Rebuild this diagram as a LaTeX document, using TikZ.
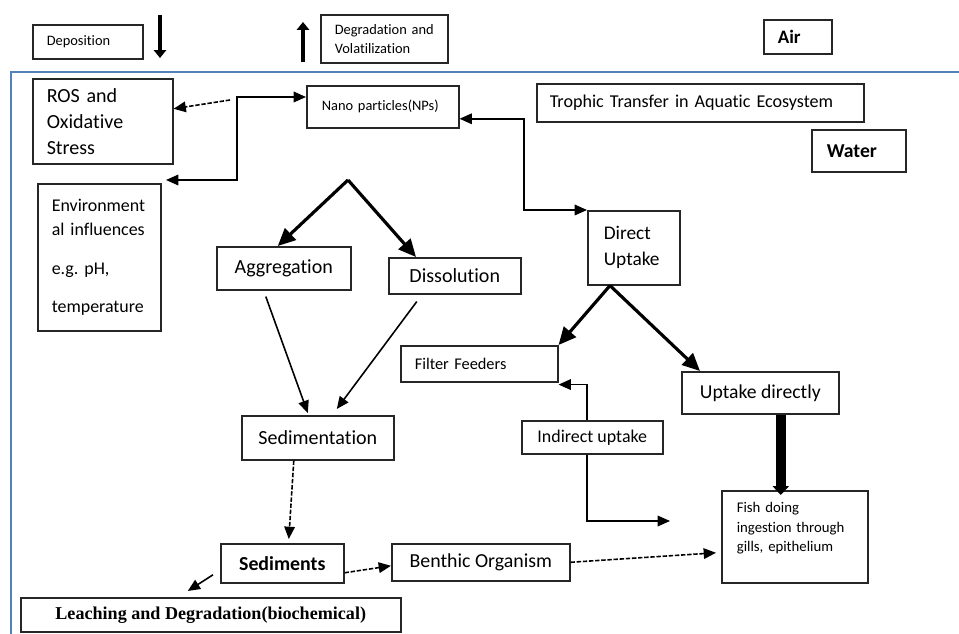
\documentclass[tikz,border=0pt]{standalone}
\usepackage{fontspec}
\setmainfont{Carlito}[Ligatures=NoCommon]
\newfontfamily\leachfont{Liberation Serif}
\usetikzlibrary{arrows.meta}
\definecolor{framblue}{RGB}{84,130,186}
\newcommand{\fsm}{\fontsize{8.2}{10.8}\selectfont}
\newcommand{\fmd}{\fontsize{10.2}{13.6}\selectfont}
\newcommand{\flg}{\fontsize{11.4}{14.8}\selectfont}
\frenchspacing

\begin{document}
\begin{tikzpicture}[x=0.02cm, y=0.02cm,
  blk/.style={draw=black!85, line width=0.9pt, anchor=north west, inner sep=0pt, align=center},
  lft/.style={align=left, text width=#1},
  thinarr/.style={line width=0.9pt, -{Triangle[length=7pt,width=6pt]}},
  fatarr/.style={line width=1.8pt, -{Triangle[length=10pt,width=9pt]}},
  dashline/.style={line width=0.9pt, dash pattern=on 2.5pt off 1pt, -{Triangle[length=7pt,width=6pt]}}]
\useasboundingbox (0,0) rectangle (959,-634);
\draw [framblue, line width=1.2pt] (11,-634) -- (11,-72) -- (959,-72);
\node [blk, lft=1.64cm, inner xsep=0.28cm, minimum width=2.2cm, minimum height=0.68cm, font=\fsm] (depo) at (32,-24) {Deposition};
\node [blk, lft=1.98cm, inner xsep=0.28cm, minimum width=2.54cm, minimum height=0.96cm, font=\fsm] (degr) at (320,-14) {Degradation and\\Volatilization};
\node [blk, lft=0.8cm, inner xsep=0.28cm, minimum width=1.36cm, minimum height=0.68cm, font=\fontsize{10.8}{13}\selectfont\bfseries] (air) at (763,-19) {Air};
\node [blk, lft=2.24cm, inner xsep=0.28cm, minimum width=2.8cm, minimum height=1.7cm, font=\flg] (ros) at (32,-78) {ROS and\\Oxidative\\Stress};
\node [blk, lft=2.44cm, inner xsep=0.3cm, minimum width=3.04cm, minimum height=0.84cm, font=\fsm] (np) at (306,-85) {Nano particles(NPs)};
\node [blk, lft=6.02cm, inner xsep=0.26cm, minimum width=6.54cm, minimum height=0.76cm, font=\fontsize{10.3}{13}\selectfont] (troph) at (536,-83) {Trophic Transfer in Aquatic Ecosystem};
\node [blk, lft=1.28cm, inner xsep=0.3cm, minimum width=1.88cm, minimum height=0.84cm, font=\fontsize{11.2}{14}\selectfont\bfseries] (water) at (811,-129) {Water};
\node [blk, lft=1.9cm, inner xsep=0.28cm, minimum width=2.46cm, minimum height=2.94cm, font=\fmd] (env) at (37,-183) {Environment\\al influences\\[9pt]e.g. pH,\\[8pt]temperature};
\node [blk, minimum width=2.68cm, minimum height=0.86cm, font=\flg] (aggr) at (216,-246) {Aggregation};
\node [blk, minimum width=2.64cm, minimum height=0.72cm, font=\flg] (diss) at (388,-257) {Dissolution};
\node [blk, lft=1.2cm, inner xsep=0.32cm, minimum width=1.84cm, minimum height=1.48cm, font=\fontsize{11}{14.7}\selectfont] (direct) at (587,-210) {Direct\\Uptake};
\node [blk, lft=2.58cm, inner xsep=0.28cm, minimum width=3.14cm, minimum height=0.72cm, font=\fontsize{9.3}{12}\selectfont] (filt) at (400,-345) {Filter Feeders};
\node [blk, minimum width=3.14cm, minimum height=0.84cm, font=\fontsize{11.2}{14}\selectfont] (updir) at (681,-371) {Uptake directly};
\node [blk, minimum width=3.04cm, minimum height=0.88cm, font=\flg] (sedim) at (241,-415) {Sedimentation};
\node [blk, minimum width=2.82cm, minimum height=0.66cm, font=\fmd] (indir) at (521,-420) {Indirect uptake};
\node [blk, lft=2.32cm, inner xsep=0.3cm, minimum width=2.92cm, minimum height=1.84cm, font=\fontsize{8.4}{11}\selectfont] (fish) at (721,-490) {Fish doing\\ingestion through\\gills, epithelium\\\mbox{}};
\node [blk, minimum width=2.46cm, minimum height=0.78cm, font=\fontsize{11.3}{14}\selectfont\bfseries] (sedi) at (220,-543) {Sediments};
\node [blk, minimum width=3.56cm, minimum height=0.74cm, font=\fontsize{11.3}{14}\selectfont] (benth) at (391,-543) {Benthic Organism};
\node [blk, minimum width=7.6cm, minimum height=0.68cm, font=\leachfont\fontsize{10.3}{12}\selectfont\bfseries] (leach) at (20,-597) {Leaching and Degradation(biochemical)};
\coordinate (deptop) at (160,-15);
\coordinate (depbot) at (160,-58);
\coordinate (volbot) at (303,-62);
\coordinate (voltop) at (303,-22);
\coordinate (rostail) at (230,-100);
\coordinate (envtip) at (166,-180);
\coordinate (npfork) at (237,-97);
\coordinate (dirbend) at (524,-210);
\coordinate (split) at (348,-180);
\coordinate (indirtip) at (670,-521);
\draw [line width=2.3pt, -{Triangle[length=4.5pt,width=7pt]}] (deptop) -- (depbot);
\draw [line width=2.3pt, -{Triangle[length=4.5pt,width=7pt]}] (volbot) -- (voltop);
\draw [dashline] (rostail) -- ([yshift=0.25cm]ros.east);
\draw [thinarr, {Triangle[length=7pt,width=6pt]}-{Triangle[length=7pt,width=6pt]}] (envtip) -| (npfork) -- (npfork -| np.west);
\draw [thinarr, {Triangle[length=7pt,width=6pt]}-{Triangle[length=7pt,width=6pt]}] ([yshift=-0.24cm]np.east) -| (dirbend) -- (direct.north west);
\draw [fatarr] (split) -- ([xshift=-0.12cm]aggr.north);
\draw [fatarr] (split) -- ([xshift=0.56cm]diss.north west);
\draw [thinarr] ([shift={(-0.36cm,-0.12cm)}]aggr.south) -- ([shift={(-0.2cm,0.04cm)}]sedim.north);
\draw [thinarr] ([shift={(-0.76cm,-0.14cm)}]diss.south) -- ([shift={(0.38cm,0.12cm)}]sedim.north);
\draw [fatarr] ([xshift=0.46cm]direct.south west) -- (filt.north east);
\draw [fatarr] ([xshift=0.46cm]direct.south west) -- ([xshift=0.38cm]updir.north west);
\draw [thinarr] ([xshift=-0.11cm]indir.north) |- ([yshift=-0.04cm]filt.south east);
\draw [thinarr] ([xshift=-0.11cm]indir.south) |- (indirtip);
\draw [line width=5.5pt, -{Triangle[length=5pt,width=9pt]}] ([xshift=0.41cm]updir.south) -- ([xshift=0.41cm,yshift=-0.1cm]updir.south |- fish.north);
\draw [dashline] ([xshift=-0.48cm]sedim.south) -- ([shift={(0.13cm,0.08cm)}]sedi.north);
\draw [dashline] ([yshift=-0.19cm]sedi.east) -- ([yshift=-0.07cm]benth.west);
\draw [dashline] (benth.east) -- ([shift={(-0.1cm,-0.32cm)}]fish.west);
\draw [thinarr] ([shift={(-0.14cm,-0.23cm)}]sedi.west) -- ([shift={(-0.46cm,0.12cm)}]leach.north);
\end{tikzpicture}
\end{document}
